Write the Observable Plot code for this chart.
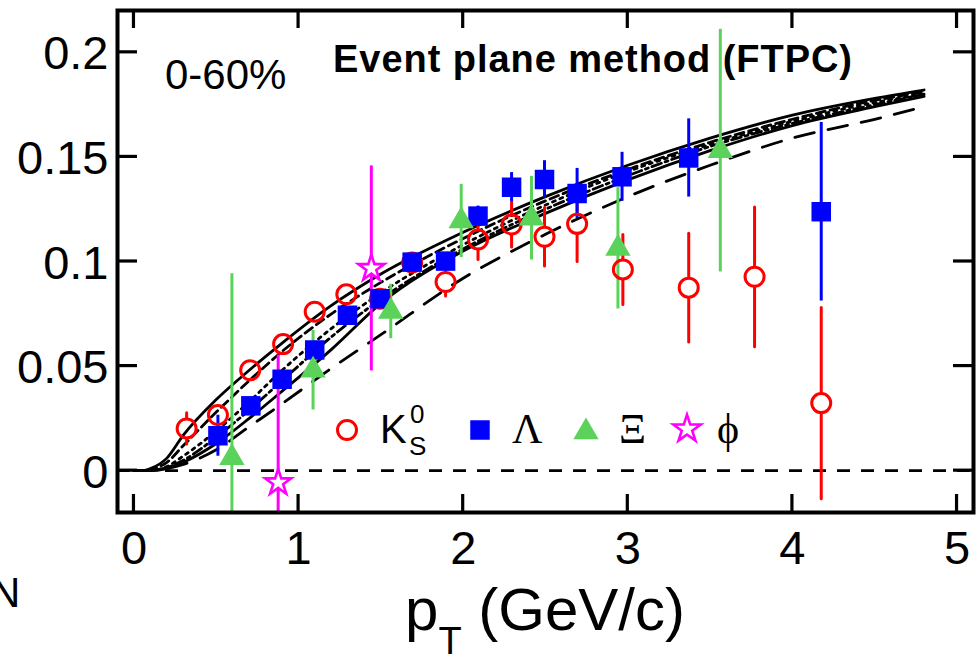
<!DOCTYPE html>
<html><head><meta charset="utf-8">
<script src="https://cdn.jsdelivr.net/npm/d3@7"></script>
<script src="https://cdn.jsdelivr.net/npm/@observablehq/plot@0.6"></script>
<style>body{margin:0;background:#fff} svg{display:block}</style>
</head><body><div id="chart"></div>
<script>
// ---- ticks ----
const xTicks = [0, 1, 2, 3, 4, 5];
const xTickLabels = ["0", "1", "2", "3", "4", "5"];
const yTicks = [0, 0.05, 0.1, 0.15, 0.2];
const yTickLabels = ["0", "0.05", "0.1", "0.15", "0.2"];

// ---- K0S (red open circles) ----
const k0sPt  = [0.32, 0.51, 0.706, 0.906, 1.098, 1.29, 1.495, 1.69, 1.893, 2.09, 2.294, 2.494, 2.692, 2.97, 3.37, 3.77, 4.175];
const k0sV2  = [0.0202, 0.0266, 0.048, 0.0605, 0.076, 0.0843, 0.0822, 0.0995, 0.0902, 0.1105, 0.1177, 0.1118, 0.118, 0.0962, 0.0875, 0.0927, 0.0323];
const k0sErr = [0.0075, 0.004, 0.002, 0.002, 0.002, 0.002, 0.003, 0.003, 0.0067, 0.0095, 0.0108, 0.014, 0.018, 0.0167, 0.026, 0.0334, 0.0457];

// ---- Lambda (blue squares) ----
const lamPt  = [0.51, 0.71, 0.90, 1.098, 1.297, 1.495, 1.69, 1.893, 2.09, 2.294, 2.494, 2.692, 2.965, 3.37, 4.175];
const lamV2  = [0.0167, 0.031, 0.0437, 0.0577, 0.0743, 0.0822, 0.0997, 0.1002, 0.1217, 0.1355, 0.1392, 0.1325, 0.1405, 0.1495, 0.1238];
const lamErr = [0.0098, 0.002, 0.002, 0.003, 0.002, 0.003, 0.002, 0.002, 0.0048, 0.007, 0.009, 0.012, 0.0117, 0.0187, 0.0427];

// ---- Xi (green triangles) ----
const xiPt  = [0.595, 1.088, 1.56, 1.988, 2.415, 2.94, 3.562];
const xiV2  = [0.0062, 0.048, 0.0761, 0.1194, 0.1207, 0.1063, 0.153];
const xiErr = [0.088, 0.019, 0.013, 0.0175, 0.020, 0.029, 0.058];

// ---- phi (magenta stars) ----
const phiPt  = [0.876, 1.442];
const phiV2  = [-0.0057, 0.0967];
const phiErr = [0.061, 0.049];

// ---- hydro model curves ----
const curvePt     = [0, 0.05, 0.1, 0.2, 0.3, 0.5, 0.7, 0.9, 1.2, 1.5, 2.0, 2.5, 3.0, 3.5, 4.0, 4.5, 4.8];
const curveSolidA = [0, 0, 0.001, 0.006, 0.017, 0.034, 0.048, 0.061, 0.079, 0.094, 0.114, 0.131, 0.146, 0.159, 0.170, 0.178, 0.182];
const curveDashB  = [0, 0, 0.0005, 0.004, 0.012, 0.028, 0.043, 0.057, 0.075, 0.090, 0.111, 0.129, 0.144, 0.157, 0.168, 0.177, 0.181];
const curveDotC   = [0, 0, 0, 0.002, 0.007, 0.019, 0.033, 0.048, 0.068, 0.085, 0.108, 0.127, 0.143, 0.156, 0.167, 0.176, 0.180];
const curveDashDotD = [0, 0, 0, 0.0015, 0.005, 0.016, 0.029, 0.043, 0.064, 0.082, 0.106, 0.125, 0.141, 0.155, 0.166, 0.175, 0.180];
const curveSolidE = [0, 0, 0, 0.001, 0.004, 0.013, 0.025, 0.038, 0.058, 0.080, 0.105, 0.123, 0.139, 0.153, 0.165, 0.174, 0.179];
const curveLongF  = [0, 0, 0, 0.001, 0.003, 0.010, 0.021, 0.032, 0.049, 0.065, 0.092, 0.113, 0.131, 0.146, 0.159, 0.168, 0.174];

const RED = "#ff0000", BLUE = "#0000ff", GREEN = "#5bd35b", MAG = "#ff00ff";

const rows = (p, v, e) => p.map((x, i) => ({x, y: v[i], e: e[i]}));
const k0s = rows(k0sPt, k0sV2, k0sErr);
const lam = rows(lamPt, lamV2, lamErr);
const xi = rows(xiPt, xiV2, xiErr);
const phi = rows(phiPt, phiV2, phiErr);
const curve = (v) => curvePt.map((x, i) => ({x, y: v[i]}));

const lw = 2.8;
const lineOpts = (dash) => ({x: "x", y: "y", stroke: "black", strokeWidth: lw, curve: "monotone-x", strokeDasharray: dash, clip: true});
const errRule = (data, color) => Plot.ruleX(data, {x: "x", y1: d => d.y - d.e, y2: d => d.y + d.e, stroke: color, strokeWidth: 3, clip: true});

const circR = 9.5;
const k0sBig = k0s.filter(d => d.e > 0.0048);

const plot = Plot.plot({
  width: 978, height: 662,
  marginLeft: 117, marginRight: 5, marginTop: 10, marginBottom: 150,
  x: {domain: [-0.1, 5.1]},
  y: {domain: [-0.02, 0.22]},
  style: {fontFamily: "'Liberation Sans', Arial, sans-serif", background: "white", color: "black"},
  marks: [
    Plot.ruleY([0], {stroke: "black", strokeWidth: 2.6, strokeDasharray: "13,11"}),
    Plot.line(curve(curveLongF), lineOpts("20,14")),
    Plot.line(curve(curveSolidE), lineOpts(null)),
    Plot.line(curve(curveDashDotD), lineOpts("10,4,3,4")),
    Plot.line(curve(curveDotC), lineOpts("3,5")),
    Plot.line(curve(curveDashB), lineOpts("9,5")),
    Plot.line(curve(curveSolidA), lineOpts(null)),
    // K0S error bars split around open circle
    Plot.arrow(k0sBig, {x1: "x", y1: "y", x2: "x", y2: d => d.y + d.e, insetStart: circR + 1, insetEnd: 0, headLength: 0, stroke: RED, strokeWidth: 3, clip: true}),
    Plot.arrow(k0sBig, {x1: "x", y1: "y", x2: "x", y2: d => d.y - d.e, insetStart: circR + 1, insetEnd: 0, headLength: 0, stroke: RED, strokeWidth: 3, clip: true}),
    errRule(lam, BLUE),
    errRule(xi, GREEN),
    errRule(phi, MAG),
    Plot.dot(k0s, {x: "x", y: "y", r: circR, stroke: RED, strokeWidth: 3, fill: "none", symbol: "circle"}),
    Plot.dot(lam, {x: "x", y: "y", r: 11, fill: BLUE, stroke: "none", symbol: "square"}),
    Plot.dot(xi, {x: "x", y: "y", r: 9.4, fill: GREEN, stroke: "none", symbol: "triangle"}),
    Plot.dot(phi, {x: "x", y: "y", r: 8.2, fill: "white", stroke: MAG, strokeWidth: 2.6, symbol: "star"}),
    Plot.frame({stroke: "black", strokeWidth: 4}),
    Plot.axisX({ticks: xTicks, tickSize: 0, tickPadding: 18, fontSize: 47, label: null, tickFormat: (d, i) => xTickLabels[i]}),
    Plot.axisY({ticks: yTicks, tickSize: 0, tickPadding: 9, fontSize: 47, label: null, dy: 2, tickFormat: (d, i) => yTickLabels[i]})
  ]
});

document.getElementById("chart").appendChild(plot);

// inward ticks on all four sides, placed with the plot's own scales
const sx = plot.scale("x"), sy = plot.scale("y");
const L = 117, R = 973, T = 10, B = 512;
const svg = d3.select(plot);
const tg = svg.append("g").attr("stroke", "black").attr("stroke-width", 3.2);
xTicks.forEach(t => {
  const X = sx.apply(t);
  tg.append("line").attr("x1", X).attr("x2", X).attr("y1", B).attr("y2", B - 18);
  tg.append("line").attr("x1", X).attr("x2", X).attr("y1", T).attr("y2", T + 18);
});
yTicks.forEach(t => {
  const Y = sy.apply(t);
  tg.append("line").attr("x1", L).attr("x2", L + 20).attr("y1", Y).attr("y2", Y);
  tg.append("line").attr("x1", R).attr("x2", R - 20).attr("y1", Y).attr("y2", Y);
});

const sans = "'Liberation Sans', Arial, sans-serif";
const serif = "'Liberation Serif', 'Times New Roman', serif";
const ann = svg.append("g").attr("text-anchor", "start").attr("fill", "black");

// annotations
ann.append("text").attr("x", 165).attr("y", 89).attr("font-family", sans).attr("font-size", 42).text("0-60%");
ann.append("text").attr("x", 333).attr("y", 72).attr("font-family", sans).attr("font-size", 38)
  .attr("font-weight", "bold").attr("textLength", 519).attr("lengthAdjust", "spacing").text("Event plane method (FTPC)");

// x-axis title
const xl = ann.append("text").attr("x", 405).attr("y", 630).attr("font-family", sans).attr("font-size", 60);
xl.append("tspan").text("p");
xl.append("tspan").attr("font-size", 38).attr("dy", 24).text("T");
xl.append("tspan").attr("dy", -24).text(" (GeV/c)");

// partial glyph at far left
ann.append("text").attr("x", -10).attr("y", 607).attr("font-family", sans).attr("font-size", 42).text("N");

// legend
const legY = 430;
const lg = ann.append("g");
const sym = (type, r) => d3.symbol().type(type).size(Math.PI * r * r)();
lg.append("path").attr("d", sym(d3.symbolCircle, circR)).attr("transform", `translate(347,${legY})`)
  .attr("fill", "none").attr("stroke", RED).attr("stroke-width", 3);
lg.append("text").attr("x", 380).attr("y", 443).attr("font-family", sans).attr("font-size", 40).text("K");
lg.append("text").attr("x", 409).attr("y", 455).attr("font-family", sans).attr("font-size", 26).text("S");
lg.append("text").attr("x", 410).attr("y", 423).attr("font-family", sans).attr("font-size", 26).text("0");
lg.append("path").attr("d", sym(d3.symbolSquare, 11)).attr("transform", `translate(480,${legY})`).attr("fill", BLUE);
lg.append("text").attr("x", 512).attr("y", 443).attr("font-family", serif).attr("font-size", 42).text("Λ");
lg.append("path").attr("d", sym(d3.symbolTriangle, 9.4)).attr("transform", `translate(586,${legY + 2})`).attr("fill", GREEN);
lg.append("text").attr("x", 619).attr("y", 443).attr("font-family", serif).attr("font-size", 42).text("Ξ");
lg.append("path").attr("d", sym(d3.symbolStar, 8.6)).attr("transform", `translate(687,${legY - 1})`)
  .attr("fill", "white").attr("stroke", MAG).attr("stroke-width", 2.6);
lg.append("text").attr("x", 717).attr("y", 443).attr("font-family", serif).attr("font-size", 42).text("ϕ");
</script>
</body></html>
